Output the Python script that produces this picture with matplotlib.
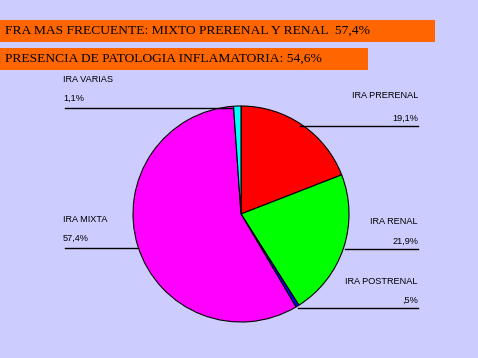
import matplotlib.pyplot as plt

# Datos
categorias = ["IRA PRERENAL", "IRA RENAL", "IRA POSTRENAL", "IRA MIXTA", "IRA VARIAS"]
porcentajes = [19.1, 21.9, 0.5, 57.4, 1.1]
etiquetas_pct = ["19,1%", "21,9%", ",5%", "57,4%", "1,1%"]
colores = ["#FF0000", "#00FF00", "#0000FF", "#FF00FF", "#00FFFF"]

titulos = ["FRA MAS FRECUENTE: MIXTO PRERENAL Y RENAL  57,4%",
           "PRESENCIA DE PATOLOGIA INFLAMATORIA: 54,6%"]
ancho_titulos = [435, 368]

fondo = "#CCCCFF"
W, H = 478, 358

fig = plt.figure(figsize=(W / 100, H / 100), dpi=100, facecolor=fondo)
ax = fig.add_axes([0, 0, 1, 1])
ax.set_facecolor(fondo)

# Cajas de titulo
for i, (t, w) in enumerate(zip(titulos, ancho_titulos)):
    yc = H - (31 + i * 28)
    ax.barh(yc, w, height=22, left=0, color="#FF6600", edgecolor="none")
    ax.text(5, yc, t, fontsize=9.7, family="Liberation Serif", va="center", ha="left")

# Tarta
cx, cy, r = 241, H - 214, 108
ax.pie(porcentajes, colors=colores, startangle=90, counterclock=False,
       center=(cx, cy), radius=r, frame=True,
       wedgeprops=dict(edgecolor="black", linewidth=0.8))
ax.set_xlim(0, W)
ax.set_ylim(0, H)
ax.set_aspect("auto")
ax.axis("off")

# Etiquetas: (x, y_nombre, y_pct, y_linea, x0_linea, x1_linea, alineacion)
pos = {
    "IRA PRERENAL": (418, 96, 118, 126, 300, 418, "right"),
    "IRA RENAL": (418, 222, 241, 249, 345, 418, "right"),
    "IRA POSTRENAL": (418, 281, 300, 308, 298, 418, "right"),
    "IRA MIXTA": (63, 220, 238, 248, 65, 137, "left"),
    "IRA VARIAS": (63, 80, 98, 108, 65, 233, "left"),
}
for cat, pct in zip(categorias, etiquetas_pct):
    x, yn, yp, yl, x0, x1, ha = pos[cat]
    ax.text(x, H - yn, cat, fontsize=6.6, family="Liberation Sans", ha=ha, va="center")
    ax.text(x, H - yp, pct, fontsize=6.6, family="Liberation Sans", ha=ha, va="center")
    ax.plot([x0, x1], [H - yl, H - yl], color="black", linewidth=1)

fig.savefig("out.png", dpi=100, facecolor=fondo)
